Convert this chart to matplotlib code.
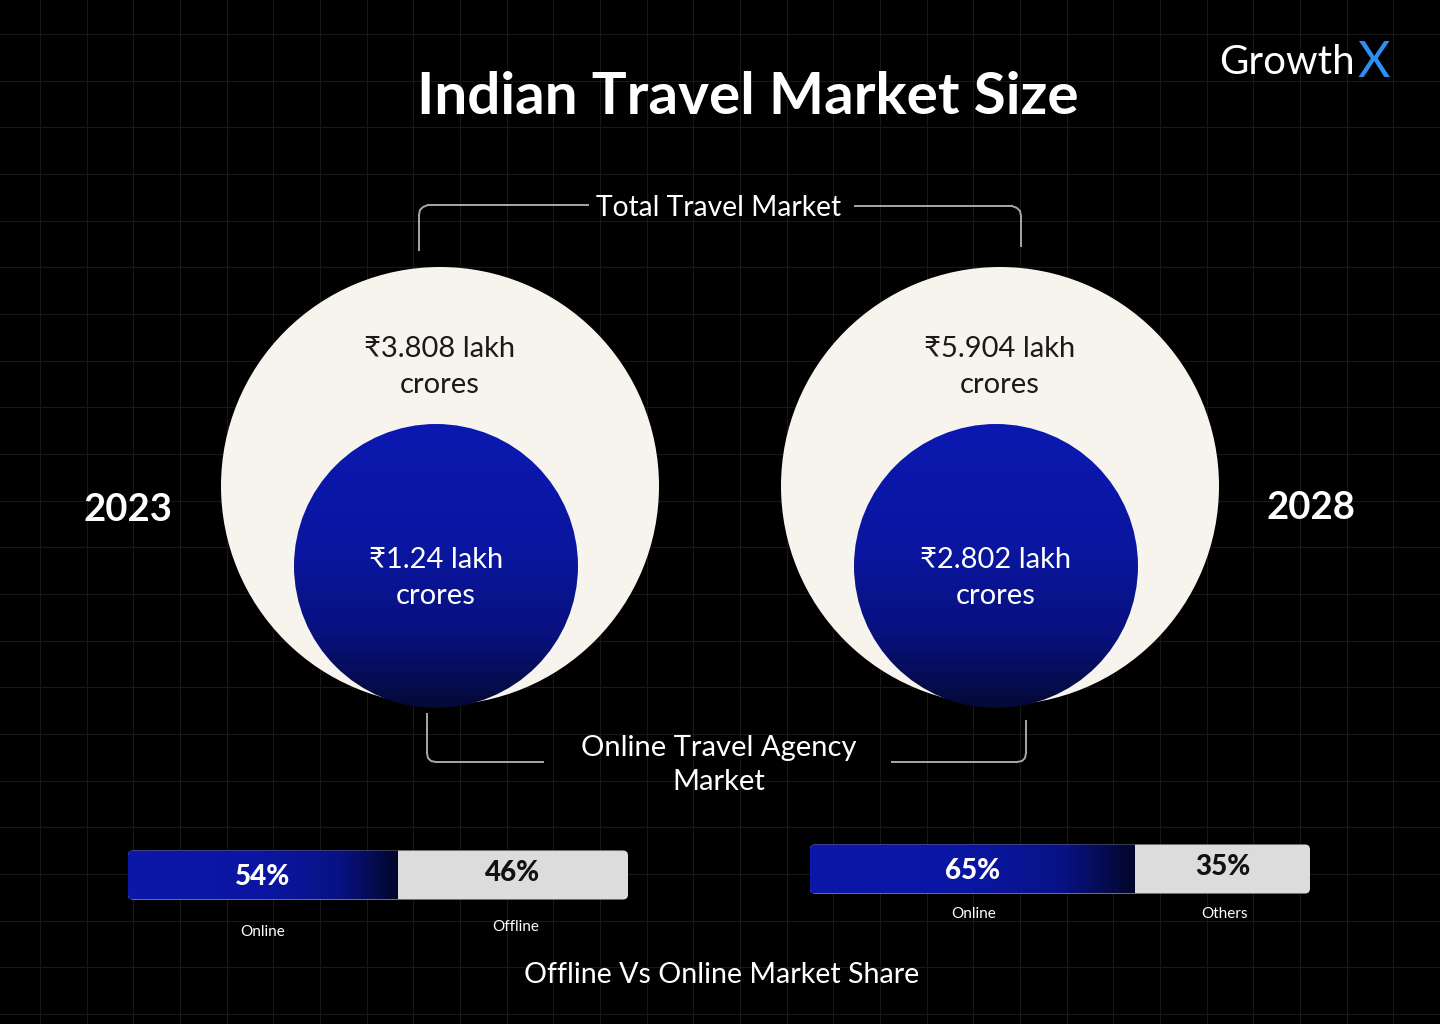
import numpy as np
import matplotlib.pyplot as plt
from matplotlib.patches import Circle, FancyBboxPatch
from matplotlib.colors import LinearSegmentedColormap

plt.rcParams['font.family'] = ['Lato', 'DejaVu Sans']

# data
years = ["2023", "2028"]
total_market = [3.808, 5.904]      # lakh crores
ota_market = [1.24, 2.802]         # lakh crores
online_share = [54, 65]
other_share = [46, 35]
share_labels = [["Online", "Offline"], ["Online", "Others"]]

W, H = 1440, 1024
fig = plt.figure(figsize=(W / 100, H / 100), dpi=100)
fig.patch.set_facecolor('black')
ax = fig.add_axes([0, 0, 1, 1])
ax.set_xlim(0, W)
ax.set_ylim(H, 0)
ax.set_facecolor('black')
ax.axis('off')

# background grid
for gx in np.arange(40, W, 46.67):
    ax.axvline(gx, color='#181818', lw=0.8, zorder=0)
for gy in np.arange(34, H, 46.67):
    ax.axhline(gy, color='#181818', lw=0.8, zorder=0)

# title + logo
ax.text(748, 98, "Indian Travel Market Size", color='white', fontsize=42,
        fontweight='bold', ha='center', va='center')
ax.text(1355, 63, "Growth", color='white', fontsize=29, ha='right', va='center')
ax.text(1357, 63, "X", color='#2f8ef2', fontsize=36, ha='left', va='center')

blue_v = LinearSegmentedColormap.from_list(
    'bv', [(0, '#0c19b0'), (0.45, '#0a169f'), (0.75, '#08117c'), (1, '#040936')], N=256)
blue_h = LinearSegmentedColormap.from_list(
    'bh', [(0, '#0b18a8'), (0.5, '#0a16a2'), (0.78, '#081285'), (1, '#03062a')], N=256)

centers_x = [440, 1000]
for i in range(2):
    cx = centers_x[i]
    big = Circle((cx, 486), 219, facecolor='#f7f4ee', edgecolor='none', zorder=2)
    ax.add_patch(big)
    ax.text(cx, 367, f"\u20b9{total_market[i]:g} lakh\ncrores", color='#1a1a1a',
            fontsize=21, ha='center', va='center', linespacing=1.45, zorder=5)

    icx = cx - 4
    inner = Circle((icx, 566), 142, facecolor='none', edgecolor='none', zorder=3)
    ax.add_patch(inner)
    grad = np.linspace(0, 1, 256).reshape(-1, 1)
    im = ax.imshow(grad, cmap=blue_v, extent=[icx - 142, icx + 142, 708, 424],
                   aspect='auto', zorder=3, interpolation='bilinear')
    im.set_clip_path(inner)
    ax.text(icx, 578, f"\u20b9{ota_market[i]:g} lakh\ncrores", color='white',
            fontsize=21, ha='center', va='center', linespacing=1.45, zorder=5)

ax.text(128, 510, years[0], color='white', fontsize=27.5, fontweight='bold',
        ha='center', va='center')
ax.text(1311, 508, years[1], color='white', fontsize=27.5, fontweight='bold',
        ha='center', va='center')

# brackets
lc = '#a8a8a8'
ax.plot([419, 419], [250, 215], color=lc, lw=1.4)
ax.plot([419, 420, 423, 428], [215, 210, 207, 205], color=lc, lw=1.4)
ax.plot([428, 588], [205, 205], color=lc, lw=1.4)
ax.plot([855, 1012], [206, 206], color=lc, lw=1.4)
ax.plot([1012, 1017, 1020, 1021], [206, 208, 211, 216], color=lc, lw=1.4)
ax.plot([1021, 1021], [216, 246], color=lc, lw=1.4)
ax.text(719, 208, "Total Travel Market", color='white', fontsize=20.3,
        ha='center', va='center')

ax.plot([427, 427], [714, 753], color=lc, lw=1.4)
ax.plot([427, 428, 431, 436], [753, 758, 761, 762], color=lc, lw=1.4)
ax.plot([436, 543], [762, 762], color=lc, lw=1.4)
ax.plot([892, 1017], [762, 762], color=lc, lw=1.4)
ax.plot([1017, 1022, 1025, 1026], [762, 761, 758, 753], color=lc, lw=1.4)
ax.plot([1026, 1026], [753, 721], color=lc, lw=1.4)
ax.text(719, 765, "Online Travel Agency\nMarket", color='white', fontsize=21,
        ha='center', va='center', linespacing=1.35)

# share bars
bar_x0 = [128, 810]
bar_yc = [875, 869]
bar_h = 49
scale = 5.0  # px per percent
for i in range(2):
    x0, yc = bar_x0[i], bar_yc[i]
    total = (online_share[i] + other_share[i]) * scale
    full = FancyBboxPatch((x0, yc - bar_h / 2), total, bar_h,
                          boxstyle='round,pad=0,rounding_size=5',
                          facecolor='#dcdcdc', edgecolor='none', zorder=2)
    ax.add_patch(full)
    split = x0 + online_share[i] * scale
    gradh = np.linspace(0, 1, 256).reshape(1, -1)
    im = ax.imshow(gradh, cmap=blue_h, extent=[x0, split, yc + bar_h / 2, yc - bar_h / 2],
                   aspect='auto', zorder=3, interpolation='bilinear')
    im.set_clip_path(full)
    ax.text((x0 + split) / 2, yc + 2, f"{online_share[i]}%", color='white',
            fontsize=20, fontweight='black', ha='center', va='center', zorder=5)
    ax.text((split + x0 + total) / 2, yc - 2, f"{other_share[i]}%", color='#111111',
            fontsize=20, fontweight='black', ha='center', va='center', zorder=5)

ax.text(263, 932, share_labels[0][0], color='white', fontsize=11, ha='center', va='center')
ax.text(516, 927, share_labels[0][1], color='white', fontsize=11, ha='center', va='center')
ax.text(974, 914, share_labels[1][0], color='white', fontsize=11, ha='center', va='center')
ax.text(1225, 914, share_labels[1][1], color='white', fontsize=11, ha='center', va='center')

ax.text(722, 975, "Offline Vs Online Market Share", color='white', fontsize=20.6,
        ha='center', va='center')

fig.savefig('out.png', dpi=100, facecolor='black')
